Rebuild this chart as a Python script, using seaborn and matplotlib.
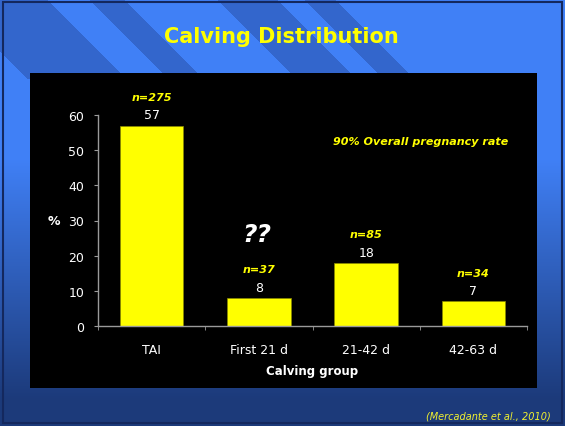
import seaborn as sns
import pandas as pd
import numpy as np
import matplotlib.pyplot as plt
from matplotlib.patches import Rectangle

groups = ['TAI', 'First 21 d', '21-42 d', '42-63 d']
percent = [57, 8, 18, 7]
n_cows = ['n=275', 'n=37', 'n=85', 'n=34']

W, H = 565, 427
fig = plt.figure(figsize=(W / 100, H / 100), dpi=100)

# slide background: vertical blue gradient, diagonal stripes up top
bg = fig.add_axes([0, 0, 1, 1])
yy, xx = np.mgrid[0:H, 0:W]
light = np.array([0x40, 0x80, 0xF6]) / 255
dark = np.array([0x1C, 0x3A, 0x7A]) / 255
t = np.clip((yy - 160) / 240, 0, 1)[..., None]
img = light * (1 - t) + dark * t
d = xx - yy
stripe = (((d > -53) & (d < 47)) | ((d > 88) & (d < 124)) |
          ((d > 216) & (d < 277)) | ((d > 303) & (d < 335))) & (yy < 80)
img[stripe] = np.array([0x33, 0x66, 0xCC]) / 255
bg.imshow(img, extent=(0, W, H, 0), aspect='auto')
bg.add_patch(Rectangle((3, 3), W - 6, H - 6, fill=False, edgecolor='#14285e', lw=1.5))
bg.add_patch(Rectangle((30, 74), 507, 315, facecolor='black', edgecolor='none'))
bg.set_xlim(0, W)
bg.set_ylim(H, 0)
bg.axis('off')

fig.text(281 / W, 1 - 37 / H, 'Calving Distribution', color='#FFFF00',
         fontsize=15, fontweight='heavy', ha='center', va='center')
fig.text(488 / W, 1 - 417 / H, '(Mercadante et al., 2010)', color='#F0F030',
         fontsize=7, style='italic', ha='center', va='center')

ax = fig.add_axes([98 / W, 100 / H, 429 / W, 211 / H])
ax.patch.set_alpha(0)
df = pd.DataFrame({'group': groups, 'percent': percent})
sns.barplot(data=df, x='group', y='percent', color='#FFFF00', saturation=1,
            width=0.59, edgecolor='#8a8a00', linewidth=0.5, ax=ax)

ax.set_xlim(-0.5, 3.5)
ax.set_ylim(0, 60)
ax.set_yticks(range(0, 61, 10))
ax.set_xticks(np.arange(-0.5, 4, 1), minor=True)
for s in ['top', 'right']:
    ax.spines[s].set_visible(False)
for s in ['left', 'bottom']:
    ax.spines[s].set_color('#9a9a9a')
    ax.spines[s].set_linewidth(1)
ax.tick_params(axis='y', colors='#9a9a9a', labelcolor='white', length=3, pad=7, labelsize=9)
ax.tick_params(axis='x', which='major', length=0, pad=12, labelcolor='white', labelsize=9)
ax.tick_params(axis='x', which='minor', length=3, color='#9a9a9a')

ax.set_xlabel('Calving group', color='white', fontsize=8.5, fontweight='bold', labelpad=6)
ax.set_ylabel('%', color='white', fontsize=9, fontweight='bold', rotation=0,
              ha='center', va='center')
ax.yaxis.set_label_coords(-0.103, 0.5)

for i, (v, n) in enumerate(zip(percent, n_cows)):
    ax.annotate(str(v), (i, v), xytext=(0, 3), textcoords='offset points',
                ha='center', va='bottom', color='white', fontsize=9)
    ax.annotate(n, (i, v), xytext=(0, 20.5), textcoords='offset points',
                ha='center', va='center', color='#FFFF00', fontsize=8,
                fontweight='bold', style='italic')

ax.text(0.98, 26.1, '??', color='white', fontsize=18, fontweight='bold',
        style='italic', ha='center', va='center')
ax.text(2.51, 52.6, '90% Overall pregnancy rate', color='#FFFF00', fontsize=8,
        fontweight='bold', style='italic', ha='center', va='center')

fig.savefig('out.png', dpi=100)
